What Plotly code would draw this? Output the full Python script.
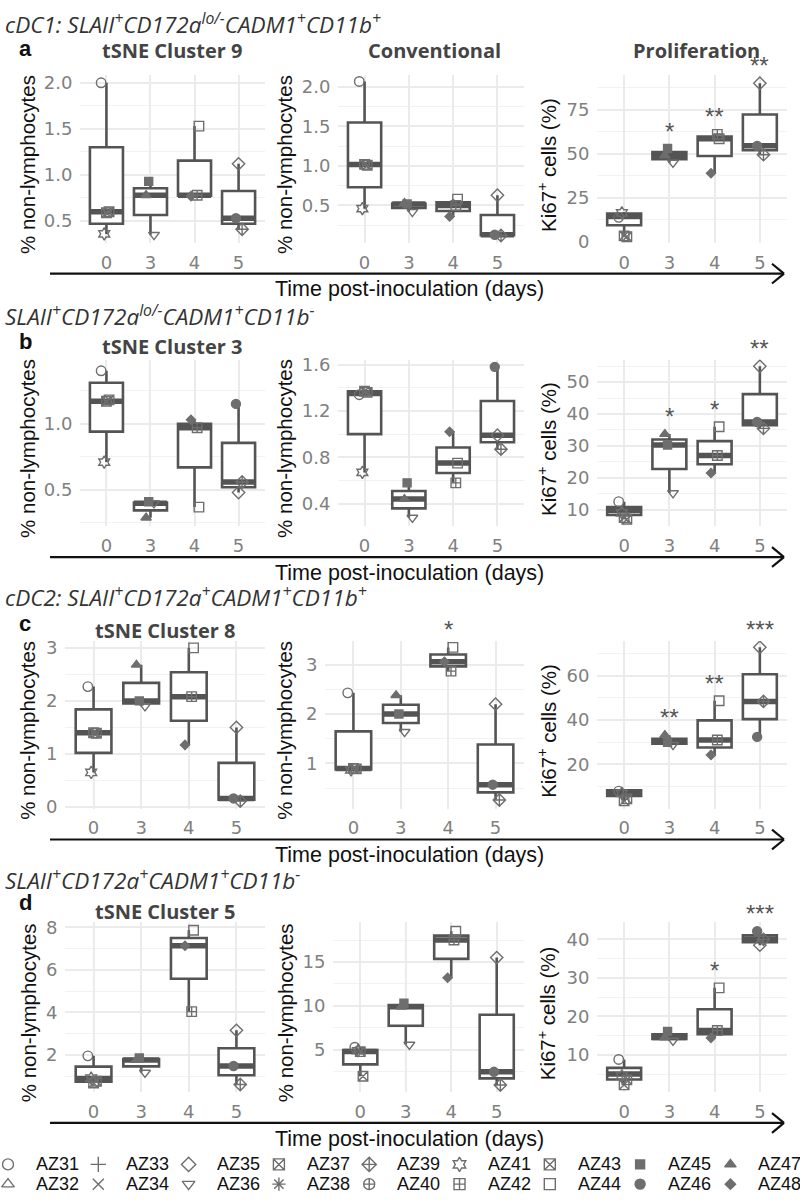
import plotly.graph_objects as go

# ---------------- data ----------------
DAYS = ["0", "3", "4", "5"]

LEGEND_ANIMALS = ["AZ31", "AZ33", "AZ35", "AZ37", "AZ39", "AZ41", "AZ43", "AZ45", "AZ47",
                  "AZ32", "AZ34", "AZ36", "AZ38", "AZ40", "AZ42", "AZ44", "AZ46", "AZ48"]

# animals with a measurement, and their day group
POINT_ANIMALS = ["AZ31", "AZ37", "AZ41", "AZ43", "AZ36", "AZ45", "AZ47",
                 "AZ42", "AZ44", "AZ48", "AZ35", "AZ39", "AZ46"]
POINT_DAY = ["0", "0", "0", "0", "3", "3", "3", "4", "4", "4", "5", "5", "5"]

# per-panel animal values (order of POINT_ANIMALS)
a1_pts = [2.0, 0.59, 0.36, 0.60, 0.35, 0.93, 0.78, 0.78, 1.53, 0.77, 1.12, 0.41, 0.53]
a2_pts = [2.07, 1.02, 0.46, 1.01, 0.42, 0.52, 0.53, 0.50, 0.58, 0.36, 0.63, 0.12, 0.13]
a3_pts = [14, 3.5, 16.5, 3.0, 45, 53, 49, 61, 58.5, 39, 90, 49.5, 54.5]
b1_pts = [1.40, 1.17, 0.71, 1.18, 0.40, 0.41, 0.29, 0.97, 0.37, 1.03, 0.48, 0.56, 1.15]
b2_pts = [1.34, 1.37, 0.67, 1.36, 0.28, 0.58, 0.44, 0.58, 0.75, 1.02, 0.99, 0.87, 1.58]
b3_pts = [12.5, 7.5, 9.0, 7.0, 15.2, 30.3, 33.7, 27, 36, 21.5, 55, 35.5, 37.5]
c1_pts = [2.27, 1.40, 0.65, 1.39, 1.9, 2.0, 2.68, 2.08, 3.0, 1.17, 1.5, 0.11, 0.16]
c2_pts = [2.43, 0.90, 0.87, 0.89, 1.64, 2.0, 2.38, 2.87, 3.35, 3.06, 2.2, 0.26, 0.57]
c3_pts = [8, 3.6, 7, 4.5, 28.8, 30, 33.2, 31, 48.7, 24.3, 72.8, 48.4, 32.4]
d1_pts = [1.95, 0.67, 0.9, 0.75, 1.16, 1.85, 1.75, 4.03, 7.86, 7.13, 3.15, 0.6, 1.47]
d2_pts = [5.3, 4.8, 4.9, 2.0, 5.6, 10.3, 9.9, 17.5, 18.5, 13.2, 15.5, 1.0, 2.5]
d3_pts = [8.8, 2.2, 4.5, 3.5, 13.7, 16.1, 14.5, 16.3, 27.4, 14.4, 38.5, 40, 42.1]

# box statistics per day: q1, median, q3, lower whisker, upper whisker
a1_q1 = [0.47, 0.565, 0.775, 0.47]; a1_med = [0.60, 0.78, 0.78, 0.53]; a1_q3 = [1.30, 0.855, 1.155, 0.825]
a1_lo = [0.36, 0.35, 0.77, 0.41]; a1_hi = [2.0, 0.93, 1.53, 1.12]
a2_q1 = [0.73, 0.47, 0.43, 0.125]; a2_med = [1.02, 0.52, 0.50, 0.13]; a2_q3 = [1.55, 0.525, 0.54, 0.38]
a2_lo = [0.46, 0.42, 0.36, 0.12]; a2_hi = [2.07, 0.53, 0.58, 0.63]
a3_q1 = [9.5, 47, 48.75, 52]; a3_med = [14.5, 49, 58.5, 54.5]; a3_q3 = [16.2, 51, 59.75, 72.25]
a3_lo = [3, 45, 39, 49.5]; a3_hi = [17, 53, 61, 90]
b1_q1 = [0.94, 0.345, 0.67, 0.52]; b1_med = [1.17, 0.40, 0.97, 0.56]; b1_q3 = [1.31, 0.405, 1.0, 0.855]
b1_lo = [0.71, 0.29, 0.37, 0.48]; b1_hi = [1.40, 0.41, 1.03, 1.15]
b2_q1 = [1.0, 0.36, 0.665, 0.93]; b2_med = [1.35, 0.44, 0.75, 0.99]; b2_q3 = [1.37, 0.51, 0.885, 1.285]
b2_lo = [0.67, 0.28, 0.58, 0.87]; b2_hi = [1.38, 0.58, 1.02, 1.58]
b3_q1 = [8.3, 22.75, 24.25, 36.5]; b3_med = [9.7, 30.3, 27, 37.5]; b3_q3 = [10.8, 32.0, 31.5, 46.25]
b3_lo = [7, 15.2, 21.5, 35.5]; b3_hi = [12.5, 33.7, 36, 55]
c1_q1 = [1.02, 1.95, 1.625, 0.135]; c1_med = [1.40, 2.0, 2.08, 0.16]; c1_q3 = [1.84, 2.34, 2.54, 0.83]
c1_lo = [0.65, 1.9, 1.17, 0.11]; c1_hi = [2.27, 2.68, 3.0, 1.5]
c2_q1 = [0.88, 1.82, 2.965, 0.415]; c2_med = [0.90, 2.0, 3.06, 0.57]; c2_q3 = [1.65, 2.19, 3.205, 1.385]
c2_lo = [0.87, 1.64, 2.87, 0.26]; c2_hi = [2.43, 2.38, 3.35, 2.2]
c3_q1 = [5.8, 29.4, 27.65, 40.4]; c3_med = [7, 30, 31, 48.4]; c3_q3 = [8.4, 31.6, 39.85, 60.6]
c3_lo = [3.6, 28.8, 24.3, 32.4]; c3_hi = [8.5, 33.2, 48.7, 72.8]
d1_q1 = [0.73, 1.455, 5.58, 1.035]; d1_med = [0.88, 1.75, 7.13, 1.47]; d1_q3 = [1.44, 1.8, 7.495, 2.31]
d1_lo = [0.67, 1.16, 4.03, 0.6]; d1_hi = [1.95, 1.85, 7.86, 3.15]
d2_q1 = [3.35, 7.75, 15.35, 1.75]; d2_med = [4.8, 9.9, 17.5, 2.5]; d2_q3 = [4.97, 10.1, 18.0, 9.0]
d2_lo = [2.0, 5.6, 13.2, 1.0]; d2_hi = [5.3, 10.3, 18.5, 15.5]
d3_q1 = [3.6, 14.1, 15.35, 39.25]; d3_med = [5.0, 14.5, 16.3, 40]; d3_q3 = [6.6, 15.3, 21.85, 41.05]
d3_lo = [2.2, 13.7, 14.4, 38.5]; d3_hi = [8.8, 16.1, 27.4, 42.1]

# significance labels per day
a3_sig = ["", "*", "**", "**"]
b3_sig = ["", "*", "*", "**"]
c2_sig = ["", "", "*", ""]; c3_sig = ["", "**", "**", "***"]
d3_sig = ["", "", "*", "***"]

ROW_HEADINGS = ["cDC1: SLAII<sup>+</sup>CD172a<sup>lo/-</sup>CADM1<sup>+</sup>CD11b<sup>+</sup>",
                "SLAII<sup>+</sup>CD172a<sup>lo/-</sup>CADM1<sup>+</sup>CD11b<sup>-</sup>",
                "cDC2: SLAII<sup>+</sup>CD172a<sup>+</sup>CADM1<sup>+</sup>CD11b<sup>+</sup>",
                "SLAII<sup>+</sup>CD172a<sup>+</sup>CADM1<sup>+</sup>CD11b<sup>-</sup>"]
ROW_LETTERS = ["a", "b", "c", "d"]
CLUSTER_TITLES = ["tSNE Cluster 9", "tSNE Cluster 3", "tSNE Cluster 8", "tSNE Cluster 5"]
COL_TITLES_TOP = ["", "Conventional", "Proliferation"]
Y_TITLES = ["% non-lymphocytes", "% non-lymphocytes", "Ki67<sup>+</sup> cells (%)"]
X_TITLE = "Time post-inoculation (days)"

# ---------------- style ----------------
SYMBOLS = {"AZ31": "circle-open", "AZ32": "triangle-up-open", "AZ33": "cross-thin-open",
           "AZ34": "x-thin-open", "AZ35": "diamond-open", "AZ36": "triangle-down-open",
           "AZ37": "square-x-open", "AZ38": "asterisk-open", "AZ39": "diamond-cross-open",
           "AZ40": "circle-cross-open", "AZ41": "hexagram-open", "AZ42": "square-cross-open",
           "AZ43": "square-x-open", "AZ44": "square-open", "AZ45": "square",
           "AZ46": "circle", "AZ47": "triangle-up", "AZ48": "diamond"}
SIZES = {"AZ45": 8, "AZ46": 9, "AZ47": 9, "AZ48": 7}
JITTER = {"AZ31": -0.12, "AZ37": 0.0, "AZ41": -0.05, "AZ43": 0.06, "AZ36": 0.08, "AZ45": -0.04,
          "AZ47": -0.1, "AZ42": 0.06, "AZ44": 0.1, "AZ48": -0.08, "AZ35": 0.0, "AZ39": 0.08,
          "AZ46": -0.06}
PT_COLOR = "#6e6e6e"
BOX_COLOR = "#545454"
GRID = "#ebebeb"
TICK_COLOR = "#808080"
W, H = 800, 1204

def fx(p):
    return p / W

def fy(p):
    return 1 - p / H

Y_DOM = [(70, 240), (358, 527), (643, 813), (928, 1100)]
X_DOM = [[(80, 265), (338, 524), (597, 787)],
         [(80, 265), (338, 524), (597, 787)],
         [(65, 265), (325, 524), (597, 787)],
         [(65, 265), (333, 524), (597, 787)]]
Y_RANGE = [[(0.261, 2.083), (0.025, 2.15), (-0.56, 94.6)],
           [(0.224, 1.485), (0.204, 1.643), (4.73, 57.1)],
           [(-0.037, 3.13), (0.08, 3.48), (0.0, 75.6)],
           [(0.233, 8.23), (0.17, 19.5), (0.26, 44.4)]]
Y_TICKS = [[[0.5, 1.0, 1.5, 2.0], [0.5, 1.0, 1.5, 2.0], [0, 25, 50, 75]],
           [[0.5, 1.0], [0.4, 0.8, 1.2, 1.6], [10, 20, 30, 40, 50]],
           [[0, 1, 2, 3], [1, 2, 3], [20, 40, 60]],
           [[2, 4, 6, 8], [5, 10, 15], [10, 20, 30, 40]]]
Y_TICKTEXT = [[["0.5", "1.0", "1.5", "2.0"], ["0.5", "1.0", "1.5", "2.0"], ["0", "25", "50", "75"]],
              [["0.5", "1.0"], ["0.4", "0.8", "1.2", "1.6"], ["10", "20", "30", "40", "50"]],
              [["0", "1", "2", "3"], ["1", "2", "3"], ["20", "40", "60"]],
              [["2", "4", "6", "8"], ["5", "10", "15"], ["10", "20", "30", "40"]]]
MINOR = [[0.25, 0.25, 12.5], [0.25, 0.2, 5], [0.5, 0.5, 10], [1, 2.5, 5]]
HEAD_Y = [18, 313, 598, 885]
LETTER_Y = [43, 340, 625, 908]
TITLE_Y = [45, 345, 632, 917]

PTS = [[a1_pts, a2_pts, a3_pts], [b1_pts, b2_pts, b3_pts], [c1_pts, c2_pts, c3_pts], [d1_pts, d2_pts, d3_pts]]
BOX = [[(a1_q1, a1_med, a1_q3, a1_lo, a1_hi), (a2_q1, a2_med, a2_q3, a2_lo, a2_hi), (a3_q1, a3_med, a3_q3, a3_lo, a3_hi)],
       [(b1_q1, b1_med, b1_q3, b1_lo, b1_hi), (b2_q1, b2_med, b2_q3, b2_lo, b2_hi), (b3_q1, b3_med, b3_q3, b3_lo, b3_hi)],
       [(c1_q1, c1_med, c1_q3, c1_lo, c1_hi), (c2_q1, c2_med, c2_q3, c2_lo, c2_hi), (c3_q1, c3_med, c3_q3, c3_lo, c3_hi)],
       [(d1_q1, d1_med, d1_q3, d1_lo, d1_hi), (d2_q1, d2_med, d2_q3, d2_lo, d2_hi), (d3_q1, d3_med, d3_q3, d3_lo, d3_hi)]]
SIG = {(0, 2): a3_sig, (1, 2): b3_sig, (2, 1): c2_sig, (2, 2): c3_sig, (3, 2): d3_sig}

fig = go.Figure()
layout = dict(width=W, height=H, autosize=False, margin=dict(l=0, r=0, t=0, b=0),
              paper_bgcolor="white", plot_bgcolor="white", showlegend=False)
annotations = []
shapes = []

BOX_W = 0.75
pos = [1, 2, 3, 4]

k = 0
for r in range(4):
    for c in range(3):
        k += 1
        xn = "x" if k == 1 else f"x{k}"
        yn = "y" if k == 1 else f"y{k}"
        xk = "xaxis" if k == 1 else f"xaxis{k}"
        yk = "yaxis" if k == 1 else f"yaxis{k}"
        x0, x1 = X_DOM[r][c]
        y0, y1 = Y_DOM[r]
        layout[xk] = dict(domain=[fx(x0), fx(x1)], anchor=yn, range=[0.4, 4.6],
                          tickmode="array", tickvals=pos, ticktext=DAYS,
                          showgrid=True, gridcolor=GRID, gridwidth=2, zeroline=False, showline=False,
                          ticks="outside", ticklen=3, tickcolor="rgba(0,0,0,0)",
                          tickfont=dict(family="DejaVu Sans", size=18, color=TICK_COLOR), fixedrange=True)
        layout[yk] = dict(domain=[fy(y1), fy(y0)], anchor=xn, range=list(Y_RANGE[r][c]),
                          tickmode="array", tickvals=Y_TICKS[r][c], ticktext=Y_TICKTEXT[r][c],
                          showgrid=True, gridcolor=GRID, gridwidth=2, zeroline=False, showline=False,
                          ticks="outside", ticklen=3, tickcolor="rgba(0,0,0,0)",
                          tickfont=dict(family="DejaVu Sans", size=18, color=TICK_COLOR),
                          minor=dict(tickmode="linear", tick0=0, dtick=MINOR[r][c], showgrid=True,
                                     gridcolor="#f2f2f2", gridwidth=1, ticks=""),
                          fixedrange=True)
        q1, med, q3, lo, hi = BOX[r][c]
        fig.add_trace(go.Box(x=pos, q1=q1, median=med, q3=q3, lowerfence=lo, upperfence=hi,
                             width=BOX_W, whiskerwidth=0, fillcolor="white",
                             line=dict(color=BOX_COLOR, width=2.6), boxpoints=False,
                             showlegend=False, hoverinfo="skip", xaxis=xn, yaxis=yn))
        mx, my = [], []
        for p, m in zip(pos, med):
            mx += [p - BOX_W / 2, p + BOX_W / 2, None]
            my += [m, m, None]
        fig.add_trace(go.Scatter(x=mx, y=my, mode="lines", line=dict(color=BOX_COLOR, width=5.5),
                                 showlegend=False, hoverinfo="skip", xaxis=xn, yaxis=yn))
        vals = PTS[r][c]
        for a, d, v in zip(POINT_ANIMALS, POINT_DAY, vals):
            xp = DAYS.index(d) + 1 + JITTER[a]
            fig.add_trace(go.Scatter(x=[xp], y=[v], mode="markers",
                                     marker=dict(symbol=SYMBOLS[a], size=SIZES.get(a, 9.5), color=PT_COLOR,
                                                 line=dict(width=1.4, color=PT_COLOR)),
                                     showlegend=False, hoverinfo="skip", xaxis=xn, yaxis=yn))
        # significance
        if (r, c) in SIG:
            for p, s, h in zip(pos, SIG[(r, c)], hi):
                if s:
                    annotations.append(dict(x=p, y=h, xref=xn, yref=yn, text=s, showarrow=False,
                                            yanchor="bottom", yshift=2,
                                            font=dict(family="Liberation Sans", size=24, color="#555555")))
        # y title
        yc = (y0 + y1) / 2 + 6
        xt = [28, 285, 547][c]
        annotations.append(dict(x=fx(xt), y=fy(yc), xref="paper", yref="paper", text=Y_TITLES[c],
                                textangle=-90, showarrow=False, xanchor="center", yanchor="middle",
                                font=dict(family="Liberation Sans", size=20.5, color="#111111")))
    # row decorations
    annotations.append(dict(x=fx(3), y=fy(HEAD_Y[r]), xref="paper", yref="paper",
                            text="<i>" + ROW_HEADINGS[r] + "</i>", showarrow=False,
                            xanchor="left", yanchor="middle",
                            font=dict(family="Open Sans", size=22.5, color="#333333")))
    annotations.append(dict(x=fx(17), y=fy(LETTER_Y[r]), xref="paper", yref="paper",
                            text="<b>" + ROW_LETTERS[r] + "</b>", showarrow=False,
                            xanchor="left", yanchor="middle",
                            font=dict(family="Liberation Sans", size=22, color="#111111")))
    cx0, cx1 = X_DOM[r][0]
    annotations.append(dict(x=fx((cx0 + cx1) / 2), y=fy(TITLE_Y[r]), xref="paper", yref="paper",
                            text="<b>" + CLUSTER_TITLES[r] + "</b>", showarrow=False,
                            xanchor="center", yanchor="middle",
                            font=dict(family="Open Sans", size=20, color="#444444")))
    if r == 0:
        for c in (1, 2):
            cx0, cx1 = X_DOM[r][c]
            annotations.append(dict(x=fx((cx0 + cx1) / 2 + 4), y=fy(TITLE_Y[r]), xref="paper", yref="paper",
                                    text="<b>" + COL_TITLES_TOP[c] + "</b>", showarrow=False,
                                    xanchor="center", yanchor="middle",
                                    font=dict(family="Open Sans", size=20, color="#444444")))
    # time arrow
    yb = Y_DOM[r][1]
    ya = yb + 31
    shapes.append(dict(type="line", xref="paper", yref="paper", x0=fx(50), x1=fx(783), y0=fy(ya), y1=fy(ya),
                       line=dict(color="#111111", width=2.2)))
    shapes.append(dict(type="line", xref="paper", yref="paper", x0=fx(772), x1=fx(784), y0=fy(ya - 10), y1=fy(ya),
                       line=dict(color="#111111", width=2.2)))
    shapes.append(dict(type="line", xref="paper", yref="paper", x0=fx(772), x1=fx(784), y0=fy(ya + 10), y1=fy(ya),
                       line=dict(color="#111111", width=2.2)))
    annotations.append(dict(x=fx(409), y=fy(ya + 16), xref="paper", yref="paper", text=X_TITLE,
                            showarrow=False, xanchor="center", yanchor="middle",
                            font=dict(family="Liberation Sans", size=21.5, color="#111111")))

# ---------------- manual legend (2 rows x 9 columns) ----------------
LEG_TOP, LEG_BOTTOM = 1158, 1204
layout["xaxis13"] = dict(domain=[0, 1], range=[0, W], anchor="y13", visible=False, fixedrange=True)
layout["yaxis13"] = dict(domain=[0, fy(LEG_TOP)], range=[LEG_BOTTOM, LEG_TOP], anchor="x13",
                         visible=False, fixedrange=True)
COL_STEP = 90.3
ROW_Y = [1173, 1193]
for i, a in enumerate(LEGEND_ANIMALS):
    col, row = i % 9, i // 9
    sx = 8 + COL_STEP * col
    sy = ROW_Y[row]
    fig.add_trace(go.Scatter(x=[sx], y=[sy], mode="markers", xaxis="x13", yaxis="y13",
                             marker=dict(symbol=SYMBOLS[a], size=SIZES.get(a, 10) + 1, color=PT_COLOR,
                                         line=dict(width=1.4, color=PT_COLOR)),
                             showlegend=False, hoverinfo="skip"))
    annotations.append(dict(x=sx + 26, y=sy, xref="x13", yref="y13", text=a, showarrow=False,
                            xanchor="left", yanchor="middle",
                            font=dict(family="Liberation Sans", size=18, color="#111111")))

layout["annotations"] = annotations
layout["shapes"] = shapes
fig.update_layout(**layout)
fig.write_html("out.html")
